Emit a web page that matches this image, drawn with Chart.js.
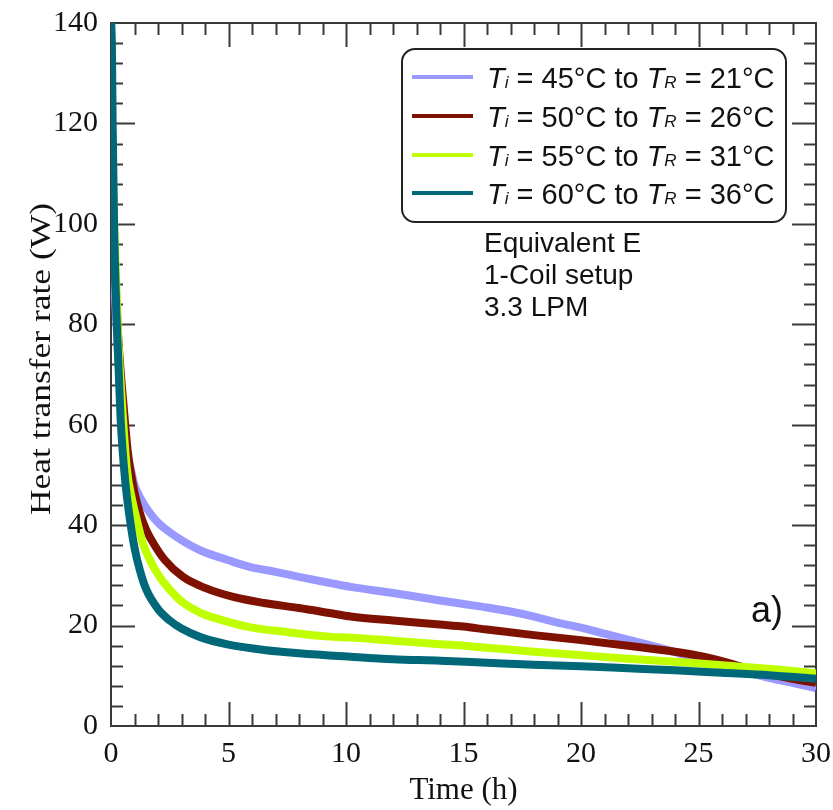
<!DOCTYPE html>
<html>
<head>
<meta charset="utf-8">
<script src="https://cdn.jsdelivr.net/npm/chart.js@4.4.1/dist/chart.umd.min.js"></script>
<style>
  html, body { margin: 0; padding: 0; background: #fff; }
  #wrap { width: 833px; height: 810px; }
</style>
</head>
<body>
<div id="wrap"><canvas id="heatChart" width="833" height="810"></canvas></div>
<script>
// 时间轴 (h) 与各工况换热量 (W)
const time45 = [0.1, 0.3, 0.5, 0.7, 0.85, 1.0, 1.3, 1.66, 2.0, 2.38, 3.0, 3.79, 5, 5.9, 7, 8, 9.3, 10.2, 12, 14, 15, 16, 17, 18, 19, 20, 21, 22, 23, 24, 25, 26, 27, 28, 29, 30];
const rate45 = [92, 74, 61, 54, 51, 48, 45, 42.4, 40.5, 39, 37, 35, 33, 31.7, 30.7, 29.7, 28.5, 27.7, 26.5, 25, 24.3, 23.6, 22.8, 21.8, 20.6, 19.6, 18.4, 17.2, 16, 14.7, 13.2, 12, 10.8, 9.6, 8.6, 7.5];

const time50 = [0.1, 0.3, 0.55, 0.72, 1.0, 1.23, 1.5, 1.79, 2.3, 3.06, 4, 5.2, 6.5, 8, 9.3, 10.2, 12, 14, 15, 16, 18, 20, 22, 24, 25, 26, 27, 28, 29, 30];
const rate50 = [98, 78, 63, 54.4, 46.5, 42.4, 39, 36.5, 33, 29.7, 27.5, 25.7, 24.5, 23.5, 22.5, 21.8, 21, 20.2, 19.8, 19.2, 18.1, 17.1, 16, 14.8, 14, 12.9, 11.6, 10.4, 9.4, 8.6];

const time55 = [0.03, 0.08, 0.15, 0.3, 0.5, 0.68, 0.9, 1.1, 1.35, 1.66, 2.0, 2.38, 3.0, 3.79, 4.8, 5.9, 7.5, 9.3, 10.2, 12, 14, 15, 16, 18, 20, 22, 24, 26, 28, 30];
const rate55 = [123, 110, 98, 78, 62, 51, 45, 41, 36.5, 33, 30.2, 27.8, 24.8, 22.6, 21, 19.7, 18.7, 17.8, 17.6, 17, 16.3, 16, 15.6, 14.8, 14.1, 13.4, 12.8, 12.1, 11.4, 10.5];

const time60 = [0.01, 0.04, 0.07, 0.13, 0.24, 0.41, 0.6, 0.81, 1.0, 1.23, 1.5, 2.0, 2.5, 3.0, 3.8, 5, 6.6, 8, 10.2, 12, 14, 16, 18, 20, 22, 24, 26, 28, 30];
const rate60 = [140, 135, 120, 100, 81, 61, 49, 41, 35.5, 31, 27.2, 23.3, 21, 19.4, 17.7, 16.2, 15.1, 14.5, 13.8, 13.3, 13, 12.6, 12.2, 11.9, 11.5, 11.1, 10.6, 10.1, 9.4];

// 图例: [Ti, TR]
const inletTemps = ['45', '50', '55', '60'];
const roomTemps = ['21', '26', '31', '36'];
const seriesColors = ['#9999ff', '#7f1100', '#bfff00', '#006878'];

const infoLines = ['Equivalent E', '1-Coil setup', '3.3 LPM'];
const panelTag = 'a)';
const yTitle = 'Heat transfer rate (W)';

const xMin = 0, xMax = 30, xStep = 5, xMinor = 1;
const yMin = 0, yMax = 140, yStep = 20, yMinor = 4;

function toPoints(ts, vs) {
    return ts.map((t, i) => ({ x: t, y: vs[i] }));
}

const serif = "'Liberation Serif', 'Times New Roman', serif";
const sans = "'Liberation Sans', Arial, sans-serif";

// 坐标框与内向刻度
const framePlugin = {
    id: 'frame',
    beforeDatasetsDraw(chart) {
        const ctx = chart.ctx;
        const { left, right, top, bottom } = chart.chartArea;
        const xs = chart.scales.x, ys = chart.scales.y;
        ctx.save();
        ctx.strokeStyle = '#3a3a3a';
        ctx.lineWidth = 2;
        ctx.beginPath();
        for (let v = xMin + xMinor; v < xMax; v += xMinor) {
            const px = Math.round(xs.getPixelForValue(v)) + 0.5;
            const len = v % xStep === 0 ? 24 : 12;
            ctx.moveTo(px, bottom); ctx.lineTo(px, bottom - len);
            ctx.moveTo(px, top); ctx.lineTo(px, top + len);
        }
        for (let v = yMin + yMinor; v < yMax; v += yMinor) {
            const py = Math.round(ys.getPixelForValue(v)) + 0.5;
            const len = v % yStep === 0 ? 24 : 12;
            ctx.moveTo(left, py); ctx.lineTo(left + len, py);
            ctx.moveTo(right, py); ctx.lineTo(right - len, py);
        }
        ctx.stroke();
        ctx.strokeRect(left, top, right - left, bottom - top);

        // 纵轴标题 (横向拉宽)
        ctx.font = '30px ' + serif;
        ctx.fillStyle = '#111';
        ctx.textAlign = 'center';
        ctx.textBaseline = 'middle';
        const w = ctx.measureText(yTitle).width;
        ctx.translate(42, 359);
        ctx.rotate(-Math.PI / 2);
        ctx.scale(312 / w, 1);
        ctx.fillText(yTitle, 0, 0);
        ctx.restore();
    }
};

// 图例框与工况说明
const notePlugin = {
    id: 'notes',
    afterDraw(chart) {
        const ctx = chart.ctx;
        ctx.save();
        // 圆角框
        const bx = 402, by = 49, bw = 384, bh = 173, r = 13;
        ctx.beginPath();
        ctx.roundRect(bx, by, bw, bh, r);
        ctx.fillStyle = '#fff';
        ctx.fill();
        ctx.strokeStyle = '#222';
        ctx.lineWidth = 2;
        ctx.stroke();

        const rowY = [77, 116, 155, 193];
        rowY.forEach((y, i) => {
            ctx.strokeStyle = seriesColors[i];
            ctx.lineWidth = 4;
            ctx.beginPath();
            ctx.moveTo(412, y);
            ctx.lineTo(473, y);
            ctx.stroke();

            let x = 487;
            const base = y + 11;
            const parts = [
                ['italic 29px ' + sans, 'T'],
                ['italic 17px ' + sans, 'i'],
                ['29px ' + sans, ' = ' + inletTemps[i] + '°C to '],
                ['italic 29px ' + sans, 'T'],
                ['italic 17px ' + sans, 'R'],
                ['29px ' + sans, ' = ' + roomTemps[i] + '°C']
            ];
            ctx.fillStyle = '#111';
            ctx.textBaseline = 'alphabetic';
            parts.forEach(([font, txt]) => {
                ctx.font = font;
                ctx.fillText(txt, x, base);
                x += ctx.measureText(txt).width;
            });
        });

        ctx.font = '28px ' + sans;
        ctx.fillStyle = '#111';
        infoLines.forEach((t, i) => ctx.fillText(t, 484, 252 + i * 32));

        ctx.font = '36px ' + sans;
        ctx.fillText(panelTag, 751, 622);
        ctx.restore();
    }
};

const labels = inletTemps.map((t, i) => 'Ti = ' + t + '°C to TR = ' + roomTemps[i] + '°C');
const series = [toPoints(time45, rate45), toPoints(time50, rate50), toPoints(time55, rate55), toPoints(time60, rate60)];

new Chart(document.getElementById('heatChart'), {
    type: 'line',
    data: {
        datasets: series.map((pts, i) => ({
            label: labels[i],
            data: pts,
            borderColor: seriesColors[i],
            backgroundColor: seriesColors[i],
            borderWidth: 8,
            pointRadius: 0,
            cubicInterpolationMode: 'monotone',
            fill: false,
            order: series.length - i
        }))
    },
    options: {
        responsive: false,
        animation: false,
        devicePixelRatio: 1,
        layout: { padding: { top: 23, right: 17, left: 0, bottom: 0 } },
        plugins: {
            legend: { display: false },
            tooltip: { enabled: false }
        },
        scales: {
            x: {
                type: 'linear',
                min: xMin,
                max: xMax,
                grid: { display: false, drawTicks: false },
                border: { display: false },
                ticks: {
                    stepSize: xStep,
                    padding: 10,
                    color: '#111',
                    font: { family: serif, size: 30 }
                },
                title: {
                    display: true,
                    text: 'Time (h)',
                    color: '#111',
                    padding: 1,
                    font: { family: serif, size: 31 }
                },
                afterFit(scale) {
                    scale.height = 84;
                    scale.paddingLeft = 0;
                    scale.paddingRight = 0;
                }
            },
            y: {
                min: yMin,
                max: yMax,
                grid: { display: false, drawTicks: false },
                border: { display: false },
                ticks: {
                    stepSize: yStep,
                    padding: 13,
                    color: '#111',
                    font: { family: serif, size: 30 }
                },
                title: { display: false },
                afterFit(scale) {
                    scale.width = 111;
                    scale.paddingTop = 0;
                    scale.paddingBottom = 0;
                }
            }
        }
    },
    plugins: [framePlugin, notePlugin]
});
</script>
</body>
</html>
